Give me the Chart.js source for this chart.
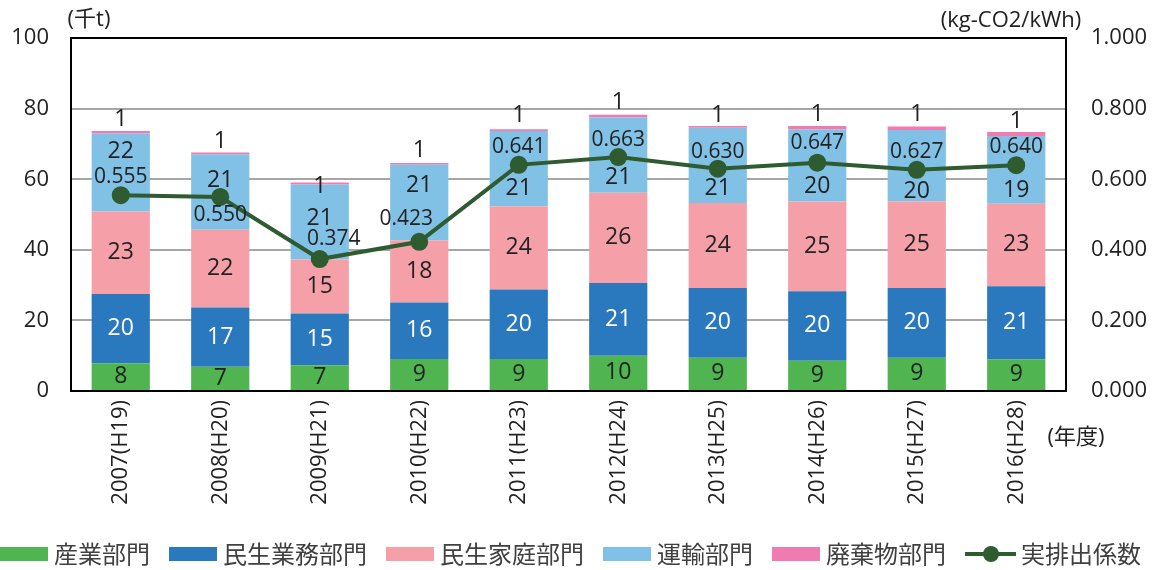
<!DOCTYPE html>
<html lang="ja">
<head>
<meta charset="utf-8">
<script src="https://cdn.jsdelivr.net/npm/chart.js@4.4.1/dist/chart.umd.min.js"></script>
<style>
  html, body { margin: 0; padding: 0; background: #fff; }
</style>
</head>
<body>
<canvas id="co2" width="1158" height="570"></canvas>
<script>
// 部門別CO2排出量 (千t) と実排出係数 (kg-CO2/kWh)
const years = ["2007(H19)", "2008(H20)", "2009(H21)", "2010(H22)", "2011(H23)",
               "2012(H24)", "2013(H25)", "2014(H26)", "2015(H27)", "2016(H28)"];
const industry  = [7.9, 6.9, 7.3, 9.1, 9.1, 10.0, 9.4, 8.6, 9.4, 9.0];
const business  = [19.6, 16.8, 14.7, 16.0, 19.7, 20.6, 19.8, 19.7, 19.8, 20.7];
const household = [23.4, 22.0, 15.3, 17.6, 23.6, 25.6, 24.1, 25.4, 24.6, 23.4];
const transport = [22.1, 21.4, 21.2, 21.4, 21.3, 21.3, 21.3, 20.4, 20.2, 19.2];
const waste     = [0.7, 0.5, 0.6, 0.5, 0.5, 0.8, 0.5, 1.0, 1.0, 1.1];
const emissionFactor = [0.555, 0.550, 0.374, 0.423, 0.641, 0.663, 0.630, 0.647, 0.627, 0.640];
const leftTicks  = [0, 20, 40, 60, 80, 100];
const rightTicks = [0, 0.2, 0.4, 0.6, 0.8, 1.0];

// label nudges (px) so the values don't collide with the line
const transportShift = [-21, -12, -4, -17, 20, 22, 23, 21, 26, 21];
const wasteShift     = [-12, -11, 4, -13, -14, -12, -11, -12, -12, -11];
const factorShift    = [[0, -18], [0, 18], [14, -20], [-13, -23], [0, -18],
                        [0, -17], [0, -17], [0, -20], [0, -18], [0, -18]];

const NUM_FONT = '"Open Sans", "Noto Sans CJK JP", sans-serif';
const JP_FONT = '"Noto Sans CJK JP", sans-serif';
const TEXT = "#222222";

const valueLabels = {
  id: "valueLabels",
  afterDraw(chart) {
    const ctx = chart.ctx;
    ctx.save();
    ctx.textAlign = "center";
    ctx.textBaseline = "middle";
    chart.data.datasets.forEach((ds, di) => {
      const meta = chart.getDatasetMeta(di);
      meta.data.forEach((el, i) => {
        const v = ds.data[i];
        if (ds.type === "line") {
          ctx.font = "21px " + NUM_FONT;
          ctx.fillStyle = TEXT;
          ctx.fillText(v.toFixed(3), el.x + factorShift[i][0], el.y + factorShift[i][1]);
          return;
        }
        ctx.font = "23px " + NUM_FONT;
        ctx.fillStyle = di === 1 ? "#ffffff" : TEXT;
        let y = (el.y + el.base) / 2;
        if (di === 3) y += transportShift[i];
        if (di === 4) y = el.y + wasteShift[i];
        ctx.fillText(String(Math.round(v)), el.x, y);
      });
    });

    // unit captions
    ctx.fillStyle = TEXT;
    ctx.font = "22px " + NUM_FONT;
    ctx.fillText("(千t)", 89, 20);
    ctx.fillText("(kg-CO2/kWh)", 1011, 21);
    ctx.fillText("(年度)", 1076, 438);

    // legend along the bottom
    ctx.textAlign = "left";
    ctx.font = "24px " + JP_FONT;
    const cy = 554;
    let x = 0;
    chart.data.datasets.forEach((ds) => {
      if (ds.type === "line") {
        ctx.strokeStyle = ds.borderColor;
        ctx.lineWidth = 4;
        ctx.beginPath();
        ctx.moveTo(x, cy);
        ctx.lineTo(x + 51, cy);
        ctx.stroke();
        ctx.fillStyle = ds.borderColor;
        ctx.beginPath();
        ctx.arc(x + 26, cy, 8, 0, Math.PI * 2);
        ctx.fill();
        x += 56;
      } else {
        ctx.fillStyle = ds.backgroundColor;
        ctx.fillRect(x, cy - 7, 48, 14);
        x += 54;
      }
      ctx.fillStyle = "#404040";
      ctx.fillText(ds.label, x, cy);
      x += ctx.measureText(ds.label).width + 19;
    });
    ctx.restore();
  }
};

const bar = (label, data, color) => ({
  type: "bar", label, data, backgroundColor: color, borderWidth: 0,
  stack: "sector", yAxisID: "y", order: 1,
  barPercentage: 0.585, categoryPercentage: 1
});

new Chart(document.getElementById("co2"), {
  data: {
    labels: years,
    datasets: [
      bar("産業部門", industry, "#50b450"),
      bar("民生業務部門", business, "#2a78be"),
      bar("民生家庭部門", household, "#f5a0a9"),
      bar("運輸部門", transport, "#80c1e5"),
      bar("廃棄物部門", waste, "#f07bb0"),
      {
        type: "line", label: "実排出係数", data: emissionFactor, yAxisID: "y1", order: 0,
        borderColor: "#2f5b31", backgroundColor: "#2f5b31", borderWidth: 4,
        pointRadius: 7, pointHoverRadius: 7, pointBackgroundColor: "#2f5b31", tension: 0
      }
    ]
  },
  options: {
    responsive: false,
    animation: false,
    layout: { padding: { top: 37, left: 0, right: 0, bottom: 0 } },
    plugins: { legend: { display: false }, tooltip: { enabled: false } },
    scales: {
      x: {
        stacked: true,
        grid: { display: false, drawTicks: false },
        border: { color: "#000", width: 2 },
        ticks: {
          color: TEXT, font: { family: NUM_FONT, size: 22 },
          minRotation: 90, maxRotation: 90, autoSkip: false, padding: 9
        },
        afterFit(scale) { scale.height = 179; }
      },
      y: {
        stacked: true, min: 0, max: 100,
        afterBuildTicks(scale) { scale.ticks = leftTicks.map(v => ({ value: v })); },
        grid: {
          drawTicks: false, lineWidth: 2,
          color: (c) => c.tick.value === 100 ? "#000" : "#a6a6a6"
        },
        border: { color: "#000", width: 2 },
        ticks: { color: TEXT, font: { family: NUM_FONT, size: 22 }, padding: 22 },
        afterFit(scale) { scale.width = 71; }
      },
      y1: {
        position: "right", min: 0, max: 1,
        afterBuildTicks(scale) { scale.ticks = rightTicks.map(v => ({ value: v })); },
        grid: { display: false, drawTicks: false },
        border: { color: "#000", width: 2 },
        ticks: {
          color: TEXT, font: { family: NUM_FONT, size: 22 }, padding: 25,
          callback: (v) => v.toFixed(3)
        },
        afterFit(scale) { scale.width = 92; }
      }
    }
  },
  plugins: [valueLabels]
});
</script>
</body>
</html>
